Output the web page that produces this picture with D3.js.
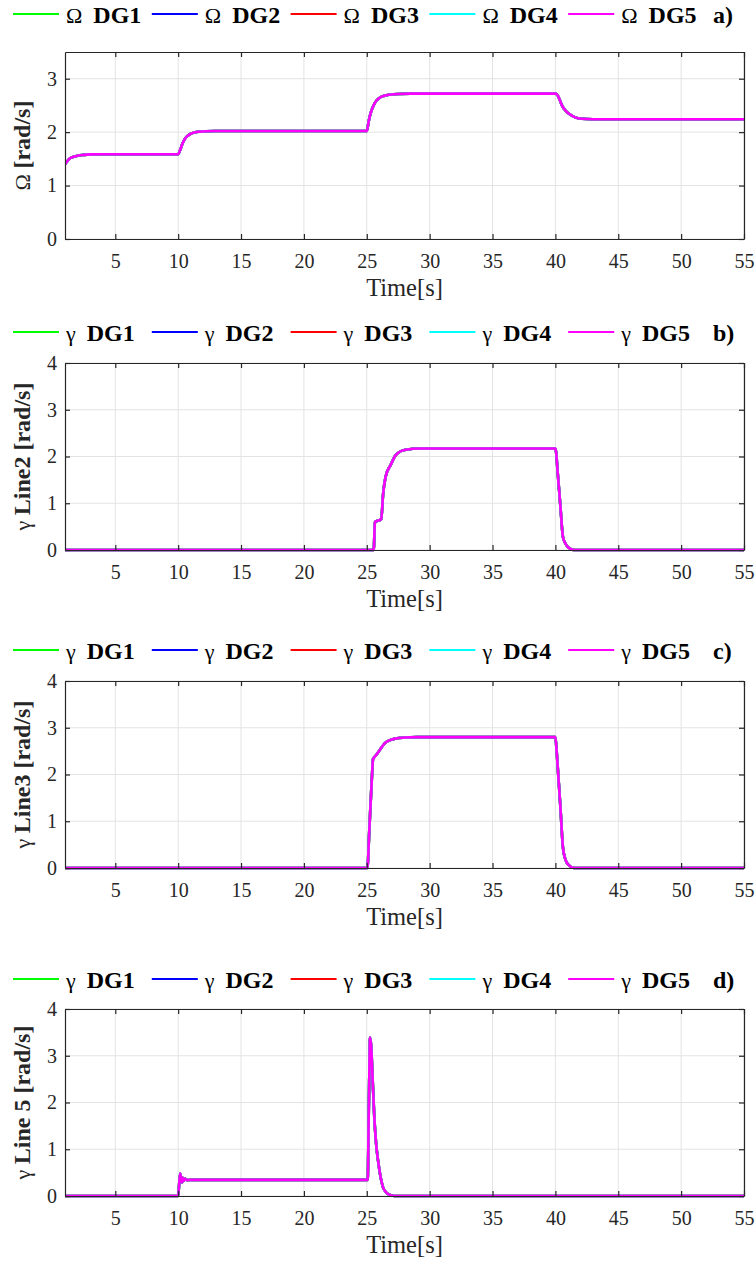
<!DOCTYPE html>
<html>
<head>
<meta charset="utf-8">
<script src="https://cdn.jsdelivr.net/npm/d3@7"></script>
<style>
  body { margin: 0; background: #fff; }
  svg { display: block; }
</style>
</head>
<body>
<svg id="chart" width="756" height="1261"></svg>
<script>
// ---- shared axis data ----
const timeDomain = [1, 55];
const timeTicks = [5, 10, 15, 20, 25, 30, 35, 40, 45, 50, 55];
const dgNames = ["DG1", "DG2", "DG3", "DG4", "DG5"];
const dgColors = ["#00ff00", "#0000ff", "#ff0000", "#00ffff", "#ff00ff"];

// ---- a) common frequency Omega (all DGs overlap) ----
const omegaTime  = [1, 1.2, 1.4, 1.7, 2.0, 2.5, 3.0, 4, 10, 10.15, 10.3, 10.5, 10.7, 11.0, 11.3, 11.7, 12.2, 13,
                    25, 25.15, 25.3, 25.6, 26.0, 26.4, 26.8, 27.5, 28.5,
                    40, 40.15, 40.35, 40.5, 40.9, 41.3, 41.8, 42.5, 43.5, 55];
const omegaValue = [1.40, 1.46, 1.51, 1.54, 1.56, 1.575, 1.583, 1.586, 1.586, 1.66, 1.76, 1.86, 1.92, 1.97, 1.995, 2.01, 2.018, 2.02,
                    2.02, 2.2, 2.35, 2.53, 2.64, 2.68, 2.70, 2.715, 2.72,
                    2.72, 2.70, 2.6, 2.51, 2.38, 2.31, 2.26, 2.245, 2.24, 2.24];

// ---- b) gamma on Line 2 ----
const line2Time  = [1, 25.55, 25.65, 25.8, 26.15, 26.3, 26.5, 26.9, 27.3, 28.0, 29.3, 40.0, 40.2, 40.4, 40.6, 40.8, 41.0, 41.5, 55];
const line2Value = [0, 0, 0.6, 0.62, 0.66, 1.2, 1.57, 1.82, 2.03, 2.14, 2.17, 2.17, 1.6, 0.93, 0.28, 0.14, 0.06, 0, 0];

// ---- c) gamma on Line 3 ----
const line3Time  = [1, 25.05, 25.2, 25.4, 25.5, 25.7, 26.1, 26.4, 26.8, 27.3, 28.0, 29, 40.0, 40.1, 40.25, 40.4, 40.6, 40.8, 41.0, 41.5, 55];
const line3Value = [0, 0, 0.8, 1.9, 2.33, 2.4, 2.55, 2.66, 2.73, 2.77, 2.79, 2.8, 2.8, 2.5, 1.9, 1.3, 0.44, 0.18, 0.08, 0, 0];

// ---- d) gamma on Line 5 ----
const line5Time  = [1, 10.0, 10.15, 10.22, 10.3, 10.38, 10.45, 10.55, 10.7, 11, 25.07, 25.17, 25.26, 25.35, 25.45, 25.6, 25.75, 25.9, 26.1, 26.3, 26.5, 26.7, 27.2, 55];
const line5Value = [0, 0, 0.48, 0.40, 0.29, 0.39, 0.32, 0.37, 0.34, 0.345, 0.345, 2.0, 3.39, 3.2, 2.6, 1.68, 1.1, 0.75, 0.4, 0.18, 0.09, 0.04, 0, 0];

// ---- y-axis settings per panel ----
const yDomainA = [0, 3.5], yTicksA = [0, 1, 2, 3];
const yDomainG = [0, 4],   yTicksG = [0, 1, 2, 3, 4];

const panels = [
  { tag: "a)", sym: "\u03A9", yName: "", yDomain: yDomainA, yTicks: yTicksA, time: omegaTime, value: omegaValue, top: 52,  legendY: 14 },
  { tag: "b)", sym: "\u03B3", yName: "Line2 ", yDomain: yDomainG, yTicks: yTicksG, time: line2Time, value: line2Value, top: 363, legendY: 332 },
  { tag: "c)", sym: "\u03B3", yName: "Line3 ", yDomain: yDomainG, yTicks: yTicksG, time: line3Time, value: line3Value, top: 681, legendY: 650 },
  { tag: "d)", sym: "\u03B3", yName: "Line 5 ", yDomain: yDomainG, yTicks: yTicksG, time: line5Time, value: line5Value, top: 1009, legendY: 979 }
];

const FONT = "'Liberation Serif', 'Times New Roman', serif";
const svg = d3.select("#chart").style("font-family", FONT);
const left = 65, right = 744, plotH = 187;
const axisColor = "#262626";

const x = d3.scaleLinear().domain(timeDomain).range([left, right]);

panels.forEach((p, pi) => {
  const y = d3.scaleLinear().domain(p.yDomain).range([p.top + plotH, p.top]);
  const g = svg.append("g");

  // grid
  const grid = g.append("g").attr("stroke", "#e3e3e3").attr("stroke-width", 1);
  grid.selectAll("line.gx").data(timeTicks).join("line")
    .attr("x1", d => x(d)).attr("x2", d => x(d))
    .attr("y1", p.top).attr("y2", p.top + plotH);
  grid.selectAll("line.gy").data(p.yTicks).join("line")
    .attr("x1", left).attr("x2", right)
    .attr("y1", d => y(d)).attr("y2", d => y(d));

  // series (DG5 drawn last, on top)
  const clipId = "clip" + pi;
  g.append("clipPath").attr("id", clipId).append("rect")
    .attr("x", left).attr("y", p.top - 2).attr("width", right - left).attr("height", plotH + 4);
  const line = d3.line().x(d => x(d[0])).y(d => y(d[1])).curve(d3.curveMonotoneX);
  const pts = p.time.map((t, i) => [t, p.value[i]]);
  const series = g.append("g").attr("clip-path", `url(#${clipId})`);
  dgNames.forEach((name, i) => {
    series.append("path").datum(pts)
      .attr("d", line).attr("fill", "none")
      .attr("stroke", dgColors[i]).attr("stroke-width", 2.6)
      .attr("stroke-linejoin", "round");
  });

  // axes (box with inward ticks)
  const styleAxis = sel => {
    sel.attr("font-family", null).style("font-family", FONT).attr("font-size", 20);
    sel.select(".domain").attr("stroke", axisColor).attr("stroke-width", 1.2);
    sel.selectAll(".tick line").attr("stroke", axisColor).attr("stroke-width", 1.2);
    sel.selectAll(".tick text").attr("fill", axisColor);
  };
  g.append("g").attr("transform", `translate(0,${p.top + plotH})`)
    .call(d3.axisBottom(x).tickValues(timeTicks).tickSizeInner(-5).tickSizeOuter(0).tickPadding(15))
    .call(styleAxis);
  g.append("g").attr("transform", `translate(0,${p.top})`)
    .call(d3.axisTop(x).tickValues(timeTicks).tickSizeInner(-5).tickSizeOuter(0).tickFormat(""))
    .call(styleAxis);
  g.append("g").attr("transform", `translate(${left},0)`)
    .call(d3.axisLeft(y).tickValues(p.yTicks).tickSizeInner(-5).tickSizeOuter(0).tickPadding(8).tickFormat(d3.format("d")))
    .call(styleAxis);
  g.append("g").attr("transform", `translate(${right},0)`)
    .call(d3.axisRight(y).tickValues(p.yTicks).tickSizeInner(-5).tickSizeOuter(0).tickFormat(""))
    .call(styleAxis);

  // x label
  g.append("text").attr("x", (left + right) / 2).attr("y", p.top + plotH + 57)
    .attr("text-anchor", "middle").attr("font-size", 24.5).attr("fill", axisColor)
    .text("Time[s]");

  // y label
  const yl = g.append("text")
    .attr("transform", `translate(30,${p.top + plotH / 2}) rotate(-90)`)
    .attr("text-anchor", "middle").attr("font-size", 24).attr("fill", axisColor);
  yl.append("tspan").attr("font-size", 22).text(p.sym + " ");
  yl.append("tspan").attr("font-weight", "bold").text(p.yName + "[rad/s]");

  // legend: line sample, symbol, bold DG name
  const lg = g.append("g");
  dgNames.forEach((name, i) => {
    const x0 = 13 + i * 138.8;
    lg.append("line").attr("x1", x0).attr("x2", x0 + 46)
      .attr("y1", p.legendY).attr("y2", p.legendY)
      .attr("stroke", dgColors[i]).attr("stroke-width", 2);
    const s = lg.append("text").attr("x", x0 + 53).attr("y", p.legendY + 9)
      .attr("font-size", 22).attr("fill", "#000").text(p.sym);
    const sw = s.node().getComputedTextLength();
    lg.append("text").attr("x", x0 + 53 + sw + 11).attr("y", p.legendY + 9)
      .attr("font-size", 24).attr("font-weight", "bold").attr("fill", "#000").text(name);
  });
  lg.append("text").attr("x", 713).attr("y", p.legendY + 9)
    .attr("font-size", 24).attr("font-weight", "bold").attr("fill", "#000").text(p.tag);
});
</script>
</body>
</html>
